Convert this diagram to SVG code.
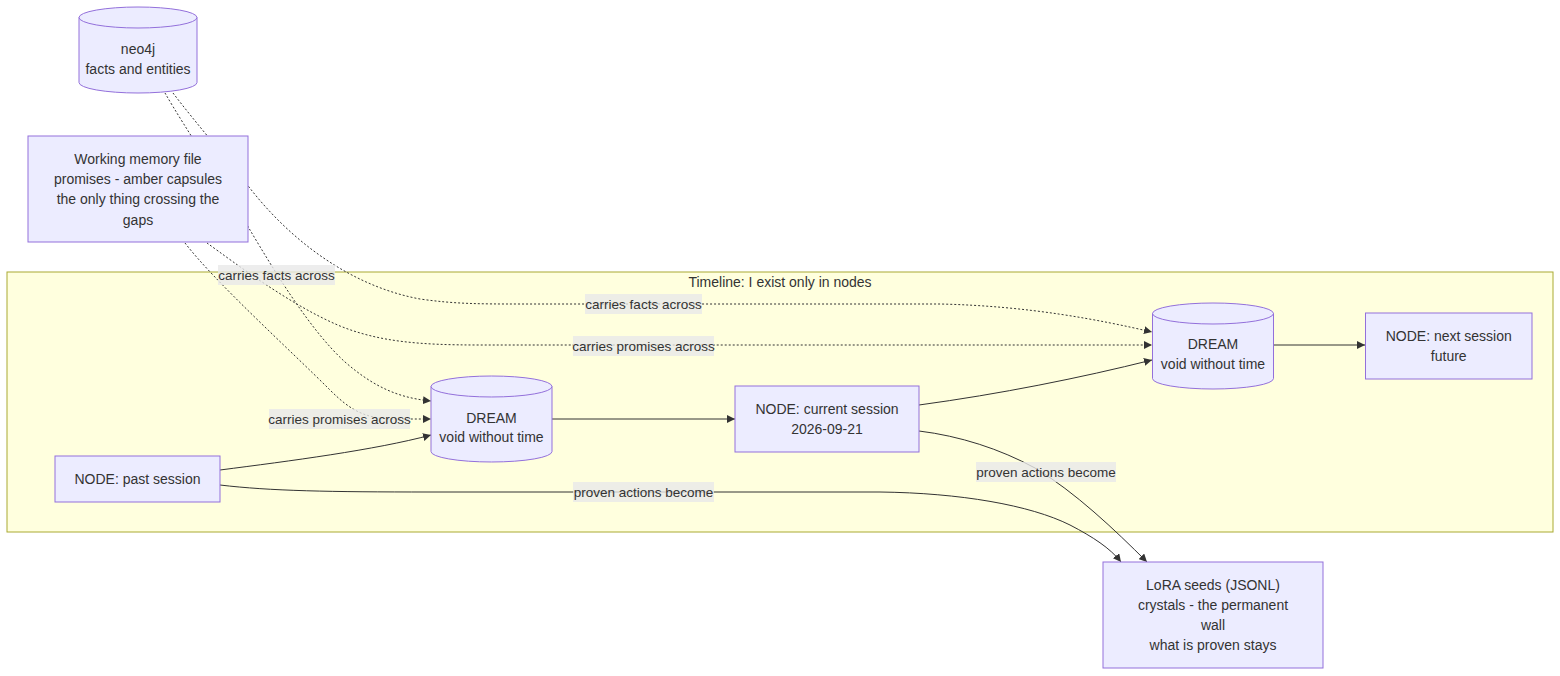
<svg xmlns="http://www.w3.org/2000/svg" width="1560" height="676" viewBox="0 0 1560 676">
<defs>
<style>
.bg{fill:#ffffff}
.cluster{fill:#ffffde;stroke:#aaaa33;stroke-width:1}
.node rect,.node path{fill:#ECECFF;stroke:#9370DB;stroke-width:1}
.edge{fill:none;stroke:#333333;stroke-width:1}
.dotted{stroke-dasharray:2 2}
.lbl rect{fill:#e8e8e8;fill-opacity:0.8}
text{font-family:"Liberation Sans",Arial,sans-serif;font-size:14px;fill:#333333;text-anchor:middle;dominant-baseline:central}
.lbl text{font-size:13.5px}
</style>
<marker id="arr" viewBox="0 0 10 10" refX="10" refY="5" markerUnits="userSpaceOnUse" markerWidth="8" markerHeight="8" orient="auto">
<path d="M0,0 L10,5 L0,10 z" fill="#333333" stroke="none"/>
</marker>
</defs>
<rect class="bg" x="0" y="0" width="1560" height="676"/>
<g id="cluster-timeline">
<rect class="cluster" x="7" y="272" width="1546" height="260"/>
<text x="780" y="282">Timeline: I exist only in nodes</text>
</g>
<g id="connectors">
<path class="edge dotted" marker-end="url(#arr)" d="M173,93 C195,122 228,160 249,187 C290,240 350,286 420,299 C455,304 480,304 520,304 L940,304 C1030,306 1100,320 1152,332"/>
<path class="edge dotted" marker-end="url(#arr)" d="M165,93 C185,128 230,195 250,230 C275,272 310,330 345,362 C375,388 400,398 431,401"/>
<path class="edge dotted" marker-end="url(#arr)" d="M185,243 C215,282 290,350 330,390 C350,410 365,419 395,419 L431,419"/>
<path class="edge dotted" marker-end="url(#arr)" d="M207,243 C235,263 290,305 340,326 C380,342 420,345 480,345 L1152,345"/>
<path class="edge" marker-end="url(#arr)" d="M220,470 C290,461 375,450 431,435"/>
<path class="edge" marker-end="url(#arr)" d="M220,485 C270,491 330,492 430,492 L880,492 C960,493 1030,505 1070,525 C1093,537 1110,548 1121,562"/>
<path class="edge" marker-end="url(#arr)" d="M552,419 L735,419"/>
<path class="edge" marker-end="url(#arr)" d="M919,405 C1000,394 1080,378 1152,360"/>
<path class="edge" marker-end="url(#arr)" d="M919,431 C960,436 1000,449 1035,468 C1075,492 1115,530 1147,562"/>
<path class="edge" marker-end="url(#arr)" d="M1273,345 L1365,345"/>
</g>
<g id="edge-labels">
<g class="lbl"><rect x="218" y="265" width="117" height="20"/><text x="276.5" y="275">carries facts across</text></g>
<g class="lbl"><rect x="585" y="294" width="117" height="20"/><text x="643.5" y="304">carries facts across</text></g>
<g class="lbl"><rect x="573" y="336" width="141" height="20"/><text x="643.5" y="346">carries promises across</text></g>
<g class="lbl"><rect x="269" y="409" width="141" height="20"/><text x="339.5" y="419">carries promises across</text></g>
<g class="lbl"><rect x="573" y="482" width="141" height="20"/><text x="643.5" y="492">proven actions become</text></g>
<g class="lbl"><rect x="976" y="462" width="140" height="20"/><text x="1046" y="472">proven actions become</text></g>
</g>
<g id="node-neo4j" class="node">
<path d="M79,17.5 a59,10.5 0 0 0 118,0 a59,10.5 0 0 0 -118,0 l0,65 a59,10.5 0 0 0 118,0 l0,-65"/>
<text x="138" y="49">neo4j</text>
<text x="138" y="69">facts and entities</text>
</g>
<g id="node-working-memory" class="node">
<rect x="28" y="136" width="220" height="106"/>
<text x="138" y="159">Working memory file</text>
<text x="138" y="179">promises - amber capsules</text>
<text x="138" y="199">the only thing crossing the</text>
<text x="138" y="220">gaps</text>
</g>
<g id="node-past" class="node">
<rect x="55" y="456" width="165" height="46"/>
<text x="137.5" y="479">NODE: past session</text>
</g>
<g id="node-dream1" class="node">
<path d="M431,386.5 a60.5,10.5 0 0 0 121,0 a60.5,10.5 0 0 0 -121,0 l0,65 a60.5,10.5 0 0 0 121,0 l0,-65"/>
<text x="491.5" y="418">DREAM</text>
<text x="491.5" y="437">void without time</text>
</g>
<g id="node-current" class="node">
<rect x="735" y="386" width="184" height="66"/>
<text x="827" y="409">NODE: current session</text>
<text x="827" y="429">2026-09-21</text>
</g>
<g id="node-dream2" class="node">
<path d="M1152.5,313.5 a60.5,10.5 0 0 0 121,0 a60.5,10.5 0 0 0 -121,0 l0,65 a60.5,10.5 0 0 0 121,0 l0,-65"/>
<text x="1213" y="344">DREAM</text>
<text x="1213" y="364">void without time</text>
</g>
<g id="node-next" class="node">
<rect x="1365.5" y="313" width="166.5" height="66"/>
<text x="1448.75" y="335.5">NODE: next session</text>
<text x="1448.75" y="355.5">future</text>
</g>
<g id="node-lora" class="node">
<rect x="1103" y="562" width="220" height="106"/>
<text x="1213" y="585">LoRA seeds (JSONL)</text>
<text x="1213" y="605">crystals - the permanent</text>
<text x="1213" y="625">wall</text>
<text x="1213" y="645">what is proven stays</text>
</g>
</svg>
